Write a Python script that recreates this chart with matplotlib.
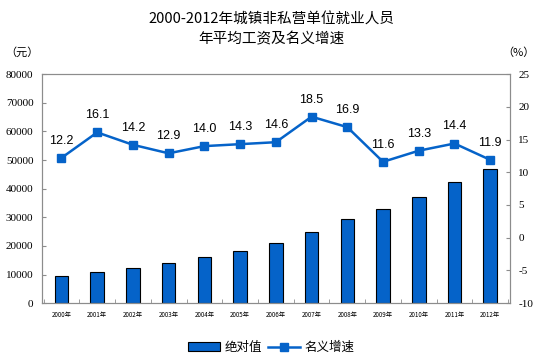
import matplotlib.pyplot as plt
import numpy as np

plt.rcParams['font.family'] = ['Noto Sans CJK SC', 'DejaVu Sans']

years = ['2000年', '2001年', '2002年', '2003年', '2004年', '2005年', '2006年',
         '2007年', '2008年', '2009年', '2010年', '2011年', '2012年']
wage = [9371, 10870, 12422, 14040, 16024, 18364, 21001,
        24932, 29229, 32736, 37147, 42452, 46769]
growth = [12.2, 16.1, 14.2, 12.9, 14.0, 14.3, 14.6,
          18.5, 16.9, 11.6, 13.3, 14.4, 11.9]

blue = '#0563C9'
gray = '#8C8C8C'

fig = plt.figure(figsize=(5.43, 3.6), dpi=100)
ax = fig.add_axes([0.077, 0.158, 0.862, 0.636])
x = np.arange(len(years))

bars = ax.bar(x, wage, width=0.38, color=blue, edgecolor='black', linewidth=0.8,
              label='绝对值', zorder=2)
ax.set_ylim(0, 80000)
ax.set_xlim(-0.55, len(years) - 0.45)
ax.set_yticks(range(0, 80001, 10000))
ax.set_yticklabels([str(v) for v in range(0, 80001, 10000)],
                   family=['Liberation Serif'], fontsize=8)
ax.set_xticks(x)
ax.set_xticklabels(years, fontsize=4.5)
ax.set_xticks(np.arange(-0.5, len(years), 1), minor=True)
ax.tick_params(axis='x', which='major', length=0, pad=6)
ax.tick_params(axis='x', which='minor', direction='in', length=3, color=gray)
ax.tick_params(axis='y', direction='in', length=3, color=gray, pad=6)
for s in ax.spines.values():
    s.set_color(gray)

ax2 = ax.twinx()
line, = ax2.plot(x, growth, color=blue, linewidth=1.8, marker='s', markersize=6,
                 label='名义增速', zorder=3)
ax2.set_ylim(-10, 25)
ax2.set_yticks(range(-10, 26, 5))
ax2.set_yticklabels([str(v) for v in range(-10, 26, 5)],
                    family=['Liberation Serif'], fontsize=8)
ax2.tick_params(axis='y', direction='in', length=3, color=gray, pad=6)
for s in ax2.spines.values():
    s.set_color(gray)

for xi, g in zip(x, growth):
    ax2.annotate(f'{g:.1f}', (xi, g), xytext=(0, 8), textcoords='offset points',
                 ha='center', va='bottom', fontsize=9, family=['Liberation Sans'])

fig.text(0.5, 0.945, '2000-2012年城镇非私营单位就业人员', ha='center', va='center',
         fontsize=10.5)
fig.text(0.5, 0.89, '年平均工资及名义增速', ha='center', va='center', fontsize=10.5)
fig.text(0.04, 0.855, '（元）', ha='center', va='center', fontsize=8)
fig.text(0.955, 0.855, '（%）', ha='center', va='center', fontsize=8)

fig.legend([bars, line], ['绝对值', '名义增速'], loc='center', bbox_to_anchor=(0.5, 0.035),
           ncol=2, frameon=False, fontsize=9, handlelength=2.5, columnspacing=0.5,
           handletextpad=0.4)

fig.savefig('out.png', dpi=100)
